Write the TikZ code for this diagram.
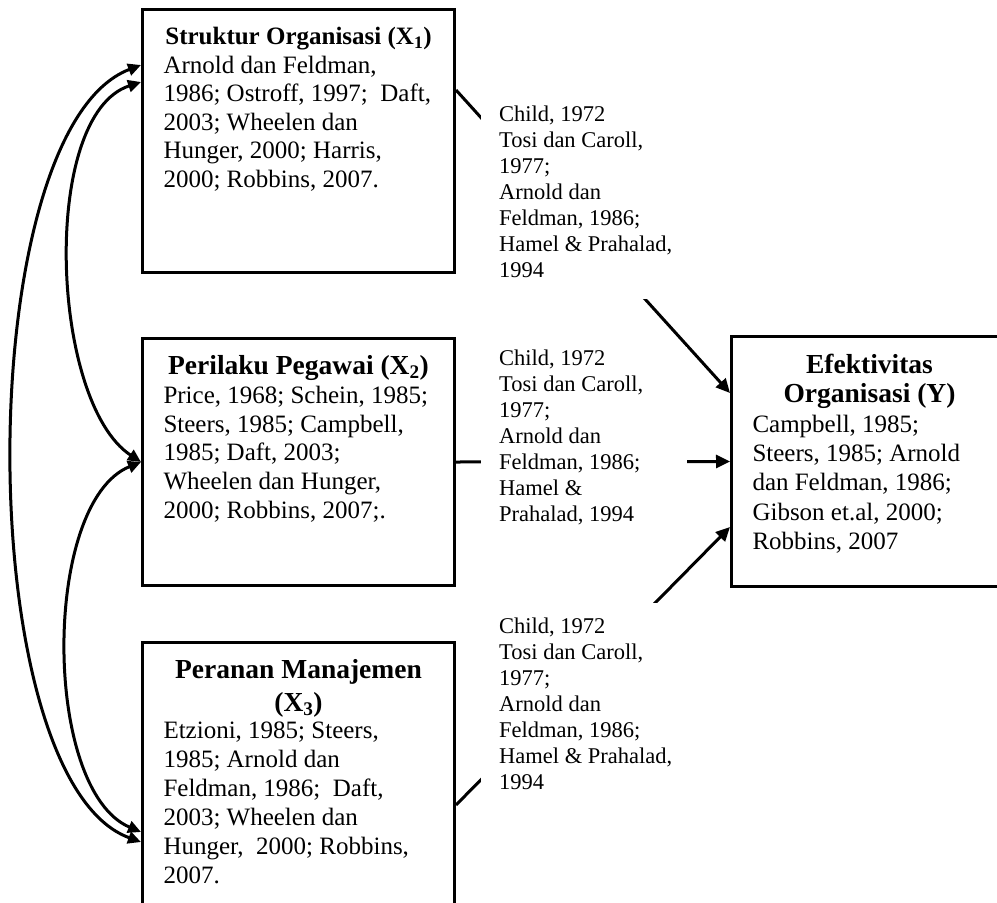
\documentclass[tikz,border=0pt]{standalone}
\usepackage{fontspec}
\setmainfont{Liberation Serif}
\usetikzlibrary{arrows.meta,calc}
\tikzset{
  box/.style={draw, line width=3pt, inner xsep=21pt, inner ysep=0pt, anchor=north west},
  lbl/.style={fill=white, inner sep=0pt, anchor=base west},
  conn/.style={line width=3pt},
  tip/.style={-{Triangle[length=14pt,width=13pt]}},
  dtip/.style={{Triangle[length=13pt,width=12pt]}-{Triangle[length=13pt,width=12pt]}},
}
\newcommand\ttl[2]{\makebox[#1][c]{\fontsize{27.5}{29}\selectfont\bfseries #2}}
\newcommand\lbltext[1]{\hspace*{18pt}\parbox[t]{188pt}{\fontsize{22.5}{26}\selectfont #1}}
\begin{document}
\begin{tikzpicture}[x=1pt,y=-1pt]
\useasboundingbox (0,0) rectangle (997,903);
\clip (0,0) rectangle (997,903);

% boxes
\node[box, text height=35pt, text depth=228pt] (X1) at (141,8)
 {\parbox[t]{270pt}{\fontsize{25}{28.5}\selectfont
  \makebox[270pt][c]{\bfseries Struktur Organisasi (X\textsubscript{1})}\\
  \mbox{Arnold dan Feldman,}\\
  \mbox{1986; Ostroff, 1997;\ \ Daft,}\\
  \mbox{2003; Wheelen dan}\\
  \mbox{Hunger, 2000; Harris,}\\
  \mbox{2000; Robbins, 2007.}}};

\node[box, text height=36pt, text depth=211pt] (X2) at (141,337)
 {\parbox[t]{270pt}{\fontsize{25}{28.8}\selectfont
  \ttl{270pt}{Perilaku Pegawai (X\textsubscript{2})}\\
  \mbox{Price, 1968; Schein, 1985;}\\
  \mbox{Steers, 1985; Campbell,}\\
  \mbox{1985; Daft, 2003;}\\
  \mbox{Wheelen dan Hunger,}\\
  \mbox{2000; Robbins, 2007;.}}};

\node[box, text height=36pt, text depth=262pt] (X3) at (141,641)
 {\parbox[t]{270pt}{\fontsize{25}{29}\selectfont
  \ttl{270pt}{Peranan Manajemen}\\[4pt]
  \ttl{270pt}{(X\textsubscript{3})}\\[-2pt]
  \mbox{Etzioni, 1985; Steers,}\\
  \mbox{1985; Arnold dan}\\
  \mbox{Feldman, 1986;\ \ Daft,}\\
  \mbox{2003; Wheelen dan}\\
  \mbox{Hunger,\ \ 2000; Robbins,}\\
  \mbox{2007.}}};

\node[box, text height=37pt, text depth=213pt] (Y) at (730,335)
 {\parbox[t]{234pt}{\fontsize{25}{29.3}\selectfont
  \ttl{234pt}{Efektivitas}\\
  \ttl{234pt}{Organisasi (Y)}\\
  \mbox{Campbell, 1985;}\\
  \mbox{Steers, 1985; Arnold}\\
  \mbox{dan Feldman, 1986;}\\
  \mbox{Gibson et.al, 2000;}\\
  \mbox{Robbins, 2007}}};

% connectors to Y
\draw[conn,tip] ($(X1.north east)+(0,82)$) -- ($(Y.north west)+(0,58)$);
\draw[conn,tip] (X2.east) -- (Y.west);
\draw[conn,tip] ($(X3.north east)+(0,164)$) -- ($(Y.north west)+(0,192)$);

% correlations on the left
\draw[conn,dtip] ($(X1.north west)+(0,57)$) .. controls +(-171,65) and +(-171,-62) .. ($(X3.north west)+(0,201)$);
\draw[conn,dtip] ($(X1.north west)+(0,74)$) .. controls +(-101,33) and +(-91,-60) .. (X2.west);
\draw[conn,dtip] (X2.west) .. controls +(-99,40) and +(-99,-42) .. ($(X3.north west)+(0,191)$);

% labels
\node[lbl, text height=30pt, text depth=178pt] (L1) at (481,121)
 {\lbltext{Child, 1972\\Tosi dan Caroll,\\1977;\\Arnold dan\\Feldman, 1986;\\Hamel \& Prahalad,\\1994}};
\node[lbl, text height=18pt, text depth=176pt] (L2) at (481,365)
 {\lbltext{Child, 1972\\Tosi dan Caroll,\\1977;\\Arnold dan\\Feldman, 1986;\\Hamel \&\\Prahalad, 1994}};
\node[lbl, text height=30pt, text depth=178pt] (L3) at (481,633)
 {\lbltext{Child, 1972\\Tosi dan Caroll,\\1977;\\Arnold dan\\Feldman, 1986;\\Hamel \& Prahalad,\\1994}};
\end{tikzpicture}
\end{document}
